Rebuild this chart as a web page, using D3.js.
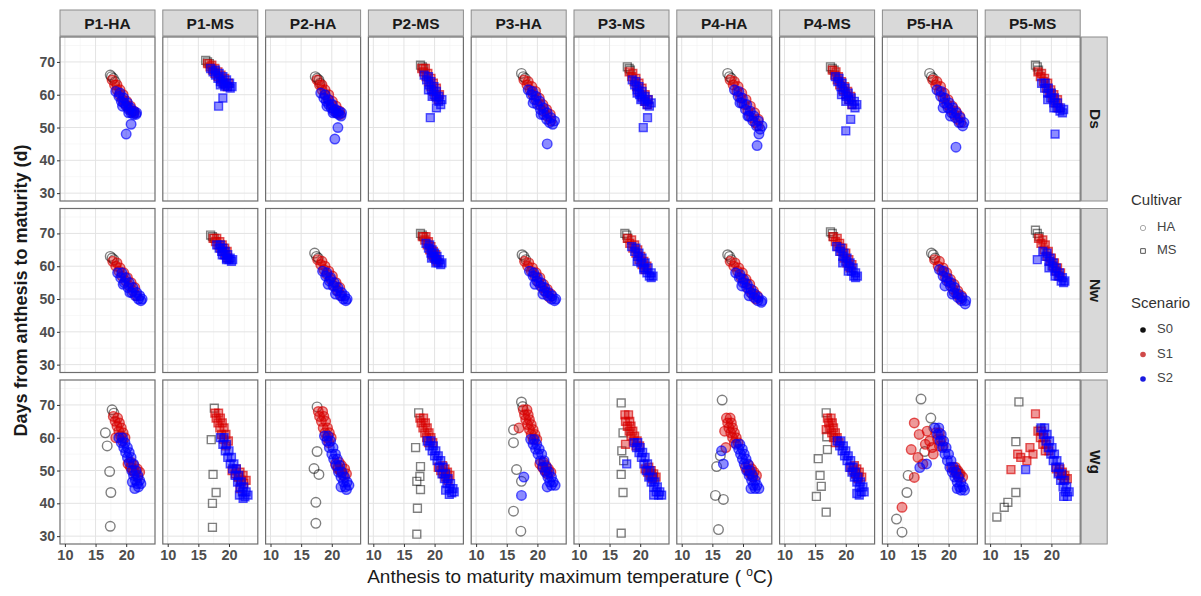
<!DOCTYPE html>
<html>
<head>
<meta charset="utf-8">
<script src="https://cdn.jsdelivr.net/npm/d3@7"></script>
<style>
  body { margin: 0; background: #fff; }
  svg { font-family: "Liberation Sans", Arial, sans-serif; }
</style>
</head>
<body>
<svg id="canvas"></svg>
<script>
// facet categories
const columns = ['P1-HA', 'P1-MS', 'P2-HA', 'P2-MS', 'P3-HA', 'P3-MS', 'P4-HA', 'P4-MS', 'P5-HA', 'P5-MS'];
const sites = ['Ds', 'Nw', 'Wg'];
const scenarios = ['S0', 'S1', 'S2'];
const cultivars = ['HA', 'MS'];

const xTicks = [10, 15, 20];
const xMinor = [12.5, 17.5, 22.5];
const yTicks = [30, 40, 50, 60, 70];
const yMinor = [35, 45, 55, 65, 75];

// points per panel, "temp,days" pairs, one string per column
const dsS0 = ['17.4,66 17.6,65.5 17.9,65 18.2,64', '16.2,70.5 16.5,70 16.8,69.5', '17.3,65.5 17.6,65 17.9,64.5 18.1,63.5', '17.7,69 18.0,68.5 18.2,68', '17.4,66.5 17.7,65.5 18.0,65', '17.9,68.5 18.2,68 18.4,67.5', '17.5,66.5 17.8,65.5 18.1,65', '17.5,68.5 17.8,68 18.1,67.5', '16.9,66.5 17.2,65.5 17.5,65', '17.4,69 17.7,68.5 17.9,67.5'];
const dsS1 = [
    '17.7,64.5 18.1,63 18.5,61.5 18.9,60 19.4,58.5 19.9,57 20.4,56 20.9,55 21.3,54.5 18.5,63 19.0,61.5 19.5,60 20.1,58 20.7,56.5 21.3,55',
    '16.5,69.5 16.9,68.5 17.3,67.5 17.7,66.5 18.2,65.5 18.7,64.5 19.2,63.5 19.7,62.5 17.2,69 17.7,68 18.2,67 18.7,66 19.3,65 19.9,63.5',
    '17.6,64.5 18.0,63 18.4,61.5 18.9,60 19.4,58.5 19.9,57 20.4,55.5 20.9,54.5 21.4,54 18.4,63 18.9,61.5 19.5,60 20.1,58 20.7,56.5 21.3,55',
    '17.9,68 18.2,67 18.6,65.5 19.0,64 19.4,62.5 19.8,61 20.2,59.5 20.6,58.5 18.5,68 18.9,66.5 19.4,65 19.8,63.5 20.3,62 20.8,60',
    '17.8,64.5 18.3,63 18.8,61.5 19.3,60 19.8,58.5 20.4,57 21.0,55 21.6,53.5 22.2,52 18.5,64 19.1,62.5 19.7,61 20.3,59 20.9,57 21.5,55.5 22.1,54',
    '18.2,67 18.6,65.5 19.0,64 19.4,62.5 19.8,61 20.3,59.5 20.8,58 21.2,57 18.8,66.5 19.3,65 19.8,63.5 20.3,62 20.8,60 21.3,58.5',
    '17.9,64.5 18.4,63 19.0,61 19.6,59 20.2,57 20.8,55 21.4,53 22.0,51.5 22.5,50.5 18.6,64 19.2,62.5 19.8,60.5 20.5,58.5 21.2,56.5 21.9,54.5 22.5,52.5',
    '17.8,67.5 18.2,66 18.6,64.5 19.0,63 19.5,61.5 20.0,60 20.5,58.5 21.0,57 18.4,67 18.8,65.5 19.3,64 19.8,62.5 20.3,61 20.8,59.5',
    '17.4,64.5 17.9,63 18.5,61 19.1,59 19.7,57 20.3,55.5 20.9,54 21.5,52.5 22.0,51.5 18.1,64 18.7,62.5 19.3,60.5 19.9,58.5 20.6,56.5 21.2,55 21.8,53.5',
    '17.8,67 18.2,65.5 18.7,64 19.2,62 19.7,60.5 20.2,59 20.7,57.5 21.2,56 18.4,66.5 18.9,65 19.4,63.5 19.9,61.5 20.4,60 21.0,58.5'
];
const dsS2 = [
    '18.3,61 18.8,59.5 19.2,58 19.6,57.5 20.0,56.5 20.4,55.5 20.8,54.5 21.2,54 21.6,54 20.8,51 20.0,48 19.0,60.5 19.6,59 20.2,57.5 20.7,56 21.2,55 21.7,54.5 19.4,56.5 20.4,54.5',
    '17.0,68 17.4,67 17.8,66 18.2,65 18.6,64 19.0,63.5 19.4,63 19.8,62.5 20.2,62 19.0,59 18.3,56.5 17.8,67.5 18.4,66.5 19.0,65.5 19.6,64.5 20.1,63.5 20.5,62.5 18.6,63 19.3,62.5',
    '18.2,60.5 18.7,59 19.1,58 19.5,57 19.9,56 20.3,55 20.7,54.5 21.1,54 21.5,53.5 21.0,50 20.5,46.5 18.9,60 19.5,58.5 20.1,57 20.6,55.5 21.1,55 21.6,54.5 19.2,56.5 20.2,54.5',
    '18.3,66 18.7,64.5 19.1,63 19.5,61.5 19.9,60 20.3,59 20.7,58 21.0,57 20.3,56 19.3,53 19.0,65.5 19.4,64 19.9,62.5 20.3,61 20.7,59.5 21.2,58.5 19.0,61.5 19.6,59.5',
    '18.5,61.5 19.0,60 19.5,58.5 20.0,57 20.5,55.5 21.0,54 21.5,52.5 22.0,51.5 22.5,51 21.6,45 19.2,61 19.8,59.5 20.4,58 21.0,56 21.6,54.5 22.2,53 22.8,52 19.3,57.5 20.6,54',
    '18.7,64.5 19.1,63 19.5,61.5 19.9,60 20.3,59 20.7,58 21.1,57 21.5,56.5 21.2,53 20.5,50 19.3,64 19.8,62.5 20.3,61 20.8,59.5 21.3,58.5 21.8,57.5 19.5,60.5 20.1,58.5',
    '18.6,61.5 19.2,59.5 19.8,57.5 20.4,55.5 21.0,53.5 21.6,52 22.2,50.5 22.8,49.5 22.6,48 22.3,44.5 19.3,61 19.9,59 20.6,57 21.2,55 21.8,53.5 22.5,52 23.1,50.5 19.5,57.5 20.8,53.5',
    '18.3,65.5 18.7,64 19.2,62.5 19.6,61 20.1,59.5 20.5,58.5 21.0,57 21.5,56 20.8,52.5 20.0,49 18.9,65 19.4,63.5 19.9,62 20.4,60.5 20.9,59 21.4,58 21.8,57 19.3,60 20.0,58',
    '18.1,61.5 18.7,59.5 19.3,57.5 19.9,56 20.5,54.5 21.1,53 21.7,51.5 22.3,50.5 21.2,44 18.8,61 19.4,59 20.1,57.5 20.7,56 21.3,54.5 21.9,53 22.5,51.5 19.1,56 20.3,53.5',
    '18.4,63.5 18.9,62 19.4,60.5 19.9,59 20.4,57.5 20.9,56 21.4,55 21.8,54.5 20.6,48 19.0,63.5 19.5,62 20.0,60.5 20.5,59 21.0,57.5 21.5,56 22.0,55.5 19.4,58.5 20.4,56'
];

const nwS0 = ['17.4,63 17.7,62.5 18.0,62', '17.0,69.5 17.3,69 17.6,68.5', '17.2,64 17.5,63 17.8,62.5', '17.7,70 18.0,69.5 18.2,69', '17.5,63.5 17.8,63 18.1,62', '17.5,70 17.8,69.5 18.0,68.5', '17.5,63.5 17.8,63 18.1,62', '17.5,70.5 17.8,70 18.0,69', '17.2,64 17.5,63.5 17.8,62.5', '17.4,71 17.7,70 18.0,69'];
const nwS1 = [
    '17.8,61.5 18.3,60 18.8,58.5 19.3,57 19.9,55.5 20.5,54 21.1,52.5 21.7,51 18.5,61 19.0,59.5 19.6,58 20.2,56.5 20.8,55 21.4,53.5',
    '17.4,68.5 17.8,67.5 18.2,66.5 18.6,65.5 19.0,64.5 19.4,63.5 19.8,62.5 18.0,68.5 18.5,67.5 18.9,66.5 19.3,65.5 19.7,64.5',
    '17.7,62 18.2,60.5 18.7,59 19.2,57.5 19.8,56 20.4,54 21.0,52.5 21.6,51 18.4,61.5 18.9,60 19.5,58.5 20.1,57 20.7,55 21.3,53.5',
    '18.0,69 18.4,68 18.8,66.5 19.2,65 19.6,63.5 20.0,62.5 20.4,61.5 18.6,69 19.0,67.5 19.4,66 19.8,64.5 20.2,63.5',
    '17.9,61.5 18.4,60 19.0,58.5 19.6,57 20.2,55 20.8,53.5 21.4,52 22.0,50.5 18.6,61 19.2,59.5 19.8,58 20.4,56.5 21.0,54.5 21.6,53 22.2,51.5',
    '17.9,68.5 18.3,67 18.8,65.5 19.3,64 19.8,62 20.3,60.5 20.8,59 18.6,68 19.1,66.5 19.6,65 20.1,63 20.6,61.5 21.1,60',
    '17.9,61.5 18.5,60 19.1,58.5 19.7,56.5 20.3,55 20.9,53 21.5,51.5 22.1,50 18.7,61 19.3,59.5 19.9,58 20.5,56 21.1,54.5 21.7,52.5 22.3,51',
    '17.9,69 18.3,67.5 18.7,66 19.2,64.5 19.7,62.5 20.2,61 20.7,59.5 18.6,68.5 19.0,67 19.5,65.5 20.0,64 20.5,62 21.0,60.5',
    '17.7,62 18.3,60 18.9,58.5 19.5,56.5 20.1,55 20.7,53 21.3,51.5 21.9,50 18.5,61.5 19.1,59.5 19.7,58 20.3,56 20.9,54.5 21.5,52.5 22.1,51',
    '17.9,68.5 18.3,67 18.8,65 19.3,63 19.8,61.5 20.3,60 20.8,58.5 21.3,57 18.6,68 19.0,66.5 19.5,64.5 20.0,62.5 20.5,61 21.0,59.5 21.5,58'
];
const nwS2 = [
    '18.6,58 19.1,56.5 19.7,55 20.3,53.5 20.9,52 21.5,51 22.0,50 22.4,49.5 19.3,58 19.9,56.5 20.5,55 21.1,53.5 21.7,52 22.2,51 22.6,50 19.5,54.5 20.6,52',
    '18.0,66.5 18.4,65.5 18.8,64.5 19.2,63.5 19.6,62.5 20.0,62 20.4,61.5 18.6,66.5 19.0,65.5 19.4,64.5 19.8,63.5 20.2,62.5 20.6,62 18.9,63.5 19.6,62',
    '18.5,58.5 19.0,57 19.6,55.5 20.2,54 20.8,52.5 21.4,51 21.9,50 22.3,49.5 19.2,58 19.8,56.5 20.4,55 21.0,53.5 21.6,52 22.1,51 22.5,50 19.4,54.5 20.6,51.5',
    '18.6,67 19.0,65.5 19.4,64 19.8,63 20.2,62 20.6,61 21.0,60.5 19.2,66.5 19.6,65 20.0,64 20.4,63 20.8,62 21.2,61 19.5,62.5 20.2,61',
    '18.7,58.5 19.3,57 19.9,55.5 20.5,54 21.1,52.5 21.7,51 22.3,50 22.8,49.5 19.4,58 20.0,56.5 20.6,55 21.2,53.5 21.8,52 22.4,51 23.0,50 19.6,54.5 20.9,51.5',
    '18.6,66 19.1,64.5 19.6,63 20.1,61 20.6,59.5 21.1,58 21.5,57 21.8,56.5 19.3,65.5 19.8,64 20.3,62.5 20.8,61 21.3,59.5 21.8,58 22.1,57 19.5,61.5 20.6,59',
    '18.8,58 19.4,56.5 20.0,55 20.6,53.5 21.2,52 21.8,50.5 22.4,49.5 23.0,49 19.5,57.5 20.1,56 20.7,54.5 21.3,53 21.9,51.5 22.5,50.5 23.1,49.5 19.8,54 21.0,51',
    '18.5,66 19.0,64.5 19.5,63 20.0,61.5 20.5,60 20.9,58.5 21.3,57 21.6,56.5 19.2,65.5 19.7,64 20.2,62.5 20.7,61 21.2,59.5 21.6,58 21.9,57 19.5,61 20.4,58.5',
    '18.5,59 19.1,57 19.7,55.5 20.3,54 20.9,52 21.5,50.5 22.1,49.5 22.7,48.5 19.2,58.5 19.8,56.5 20.4,55 21.0,53.5 21.6,51.5 22.2,50.5 22.8,49.5 19.4,54 20.6,51.5',
    '17.7,62 18.6,64.5 19.1,63 19.6,61.5 20.1,60 20.6,58.5 21.1,57 21.6,55.5 22.0,55 19.3,64 19.8,62.5 20.3,61 20.8,59.5 21.3,58 21.8,56.5 22.2,55.5 19.6,59.5 20.6,57'
];

const wgS0 = ['17.7,68.5 18.0,67.5 16.6,61.5 16.9,57.5 17.3,49.7 17.5,43.3 17.4,33 20.8,51 21.3,50', '17.6,69 17.1,59.4 17.4,48.8 17.9,43.3 17.3,40 17.3,32.7 21.6,48 21.9,47', '17.6,69.4 17.6,55.8 17.1,50.6 17.9,48.8 17.4,40.3 17.4,33.9 21.0,51 21.4,50', '17.4,67.6 16.9,57 17.7,51.2 17.6,48.2 17.1,46.7 17.7,44.2 17.2,38.5 17.1,30.6 21.8,49', '17.4,70.9 17.6,69.5 16.1,62.4 16.1,58.5 16.6,50.3 17.4,46.7 16.1,37.6 17.3,31.5 21.5,50', '16.9,70.6 17.2,61.5 17.0,56 17.3,53 16.9,48.8 17.2,43.3 16.9,30.9 21.8,49 22.2,48', '16.6,71.5 16.3,54.5 15.7,51.2 15.5,42.4 16.8,41.2 16.0,32 21.0,50 21.4,49', '16.8,67.6 16.9,60.3 17.0,56.4 15.5,53.6 15.8,48.5 16.0,45.2 15.2,42.1 16.8,37.3 21.6,49 22.0,48', '15.5,71.8 17.1,66 16.1,55.8 13.4,48.5 13.2,43.3 11.5,35.2 12.4,31.2 21.3,50 21.7,49 17.6,63', '14.7,70.9 14.2,58.8 14.2,43.3 12.9,40.3 12.3,38.8 11.1,35.8 21.8,48.5 22.2,47.5 18.2,62.4'];
const wgS1 = [
    '17.9,66.5 18.2,65 18.5,63.5 18.8,62 19.1,60.5 19.4,59 20.3,52 20.7,51 21.1,50 21.5,49 21.9,48 18.3,60 18.6,66 18.9,64.5 19.2,63 19.5,61.5 19.8,60 20.8,52.5 21.3,51.5 21.8,50.5 22.2,49.5',
    '17.7,67.5 17.9,66 18.2,64.5 18.5,63 18.8,61 19.1,59.5 19.5,57.5 20.5,50 21.0,49 21.5,48 22.0,47 22.4,46 21.8,44.5 18.3,67.5 18.6,66 18.9,64.5 19.2,63 19.5,61 19.9,59 21.2,50.5 21.8,49.5 22.3,48.5 22.8,47',
    '17.8,68 18.0,66.5 18.3,65 18.6,63 18.9,61.5 19.2,60 19.5,58.5 20.6,52 21.0,50.5 21.5,49.5 21.9,48.5 18.5,68 18.7,66.5 19.0,65 19.3,63 19.6,61.5 19.9,60 21.2,52.5 21.6,51.5 22.1,50.5 22.4,49',
    '17.6,66 17.8,64.5 18.1,63 18.4,61.5 18.7,60 19.0,58.5 20.6,51 21.0,50 21.4,49 21.8,48 22.2,47 18.2,66 18.5,64.5 18.8,63 19.1,61.5 19.4,60 19.7,58.5 21.3,51.5 21.7,50.5 22.1,49.5 22.5,48.5',
    '17.7,68.5 17.9,67 18.1,65.5 18.4,64 18.7,62.5 19.0,61 19.3,59.5 20.4,52 20.8,51 21.2,50 21.6,49 17.0,63 18.3,68.5 18.5,67 18.7,65.5 19.0,64 19.3,62.5 19.6,61 19.9,59.5 21.0,52.5 21.4,51.5 21.8,50.5 22.2,49.5',
    '17.5,67 17.6,65 17.9,63.5 18.2,62 18.5,60.5 18.9,59 19.3,57.5 20.8,50.5 21.2,49.5 21.6,48.5 22.0,47.5 17.6,58 18.1,67 18.3,65 18.5,63.5 18.8,62 19.1,60.5 19.5,59 19.9,57.5 21.4,51 21.8,50 22.2,49 22.6,48',
    '17.3,66 17.5,64.5 17.7,63 18.0,61.5 18.3,60 18.6,58.5 17.0,62 17.2,57 20.4,51 20.8,50 21.2,49 21.6,48 17.9,66 18.1,64.5 18.3,63 18.6,61.5 18.9,60 19.2,58.5 21.0,51.5 21.4,50.5 21.8,49.5 22.2,48.5',
    '17.0,66 17.2,64.5 17.4,63 17.7,61.5 18.0,60 18.3,58.5 16.8,62.5 20.8,51 21.2,50 21.6,49 22.0,47.5 17.6,66 17.8,64.5 18.0,63 18.3,61.5 18.6,60 18.9,58.5 21.4,51.5 21.8,50.5 22.2,49.5 22.6,48',
    '14.4,64.5 13.9,56.4 15.0,54 14.4,47.9 12.4,38.8 16.5,62 16.9,59 17.3,57 15.8,52 17.9,61.5 18.2,59.5 18.5,57.5 20.5,51 20.9,50 21.3,49 21.7,48 18.5,61.5 18.8,59.5 19.1,57.5 21.1,51 21.5,50 21.9,49 22.3,48 17.5,55 16.2,58 15.2,61',
    '17.4,67.3 15.0,54 13.4,50.3 16.5,57 17.0,55 17.8,62 18.2,60 18.6,58 19.0,56 20.8,50.5 21.2,49.5 21.6,48.5 22.0,47.5 18.4,62 18.8,60 19.2,58 19.6,56 21.4,50.5 21.8,49.5 22.2,48.5 22.6,47.5 16.0,53 14.5,55'
];
const wgS2 = [
    '18.8,60 19.2,58.5 19.6,57 19.9,55.5 20.2,54 20.5,52.5 20.9,50 21.2,48.5 21.5,47 21.8,46 22.0,45 21.4,44.5 19.4,60 19.8,58.5 20.2,57 20.5,55.5 20.8,54 21.2,52 21.6,50 21.9,48.5 22.2,47 22.4,46 21.0,46.5',
    '18.6,60 19.0,58 19.4,56 19.8,54 20.2,52 20.6,50.5 21.0,48.5 21.4,46.5 21.8,45 22.2,43.5 22.6,42 22.3,41.5 19.2,60 19.6,58 20.0,56 20.4,54 20.8,52 21.2,50.5 21.6,48.5 22.0,46.5 22.4,45 22.8,43.5 23.1,42.5 21.7,42.5',
    '18.8,60.5 19.2,59 19.6,57 20.0,55 20.3,53.5 20.7,51.5 21.1,49.5 21.5,48 21.9,46.5 22.2,45 22.4,44.2 19.4,60.5 19.8,59 20.2,57 20.6,55 20.9,53.5 21.3,51.5 21.7,49.5 22.1,48 22.5,46.5 22.8,45.5 21.5,45',
    '18.8,59 19.2,57.5 19.6,56 20.0,54.5 20.4,53 20.8,51 21.2,49 21.6,47.5 22.0,46 22.4,44.5 22.8,43.2 22.4,42.7 19.4,59 19.8,57.5 20.2,56 20.6,54.5 21.0,53 21.4,51 21.8,49 22.2,47.5 22.6,46 23.0,44.5 23.2,43.5 21.8,44',
    '18.9,59.5 19.3,58 19.7,56.5 20.1,55 20.5,53 20.9,51 21.3,49.5 21.7,48 22.0,46.5 22.3,45.5 17.4,42.4 17.8,48 19.5,59.5 19.9,58 20.3,56.5 20.7,55 21.1,53 21.5,51 21.9,49.5 22.3,48 22.6,46.5 22.9,45.5 21.6,45',
    '19.0,58.5 19.4,57 19.8,55.5 20.2,54 20.6,52 21.0,50 21.4,48 21.8,46.5 22.2,45 22.6,43.5 23.0,42.5 17.8,52 19.6,58.5 20.0,57 20.4,55.5 20.8,54 21.2,52 21.6,50 22.0,48 22.4,46.5 22.8,45 23.2,43.5 23.5,42.5 22.2,42.5',
    '18.9,58 19.3,56.5 19.6,55 19.9,53.5 20.2,52 20.6,50 21.0,48.5 21.4,47 21.7,45.5 22.0,44.5 16.5,56 16.8,52 19.5,58 19.9,56.5 20.2,55 20.5,53.5 20.8,52 21.2,50 21.6,48.5 22.0,47 22.3,45.5 22.6,44.5 21.3,44.5',
    '18.6,59 19.0,57.5 19.4,56 19.8,54.5 20.2,53 20.6,51 21.0,49.5 21.4,48 21.8,46.5 22.2,45 22.5,43.5 22.2,42.5 19.2,59 19.6,57.5 20.0,56 20.4,54.5 20.8,53 21.2,51 21.6,49.5 22.0,48 22.4,46.5 22.8,45 23.0,43.5 21.8,43',
    '15.3,50.9 16.4,52 17.8,63 18.2,61 18.6,59 19.0,57 19.4,55 19.8,53 20.2,51 20.6,49.5 21.0,48 21.4,46.5 21.8,45 22.0,44 18.4,63 18.8,61 19.2,59 19.6,57 20.0,55 20.4,53 20.8,51 21.2,49.5 21.6,48 22.0,46.5 22.4,45 22.6,44 21.4,44.5',
    '15.8,50.3 18.3,63 18.7,61 19.1,59 19.5,57 19.9,55 20.3,53 20.7,51 21.1,49 21.5,47 21.9,45 22.3,43.5 22.0,42.1 18.9,63 19.3,61 19.7,59 20.1,57 20.5,55 20.9,53 21.3,51 21.7,49 22.1,47 22.5,45 22.9,43.5 22.6,42.1'
];

const rowSeries = [[dsS0, dsS1, dsS2], [nwS0, nwS1, nwS2], [wgS0, wgS1, wgS2]];

const width = 1201;
const height = 596;
const plotLeft = 60;
const panelW = 95;
const stepX = 102.8;
const plotTop = 37;
const panelH = 164;
const stepY = 171.5;
const stripH = 27;

const scenarioStroke = ['rgba(0,0,0,0.5)', 'rgba(215,0,0,0.65)', 'rgba(0,0,255,0.65)'];
const scenarioFill = ['none', 'rgba(215,0,0,0.4)', 'rgba(0,0,255,0.45)'];

const svg = d3.select('#canvas')
    .attr('width', width)
    .attr('height', height);

const xScale = d3.scaleLinear().domain([9.2, 24.7]).range([0, panelW]);
const yScale = d3.scaleLinear().domain([27.6, 77.6]).range([panelH, 0]);

const parsePoints = (s) => s.split(' ').map(p => p.split(',').map(Number));

const circleSym = d3.symbol().type(d3.symbolCircle).size(72)();
const squareSym = d3.symbol().type(d3.symbolSquare).size(62)();

// top strips
columns.forEach((col, i) => {
    const x0 = plotLeft + i * stepX;
    svg.append('rect')
        .attr('x', x0).attr('y', plotTop - stripH)
        .attr('width', panelW).attr('height', stripH - 1)
        .attr('fill', '#d9d9d9').attr('stroke', '#8c8c8c').attr('stroke-width', 1);
    svg.append('text')
        .attr('x', x0 + panelW / 2).attr('y', plotTop - stripH / 2 + 1)
        .attr('text-anchor', 'middle').attr('dominant-baseline', 'middle')
        .attr('font-size', 15.5).attr('font-weight', 'bold').attr('fill', '#1a1a1a')
        .text(col);
});

// right strips
sites.forEach((site, r) => {
    const y0 = plotTop + r * stepY;
    const x0 = plotLeft + 9 * stepX + panelW + 1;
    svg.append('rect')
        .attr('x', x0).attr('y', y0)
        .attr('width', 26).attr('height', panelH)
        .attr('fill', '#d9d9d9').attr('stroke', '#8c8c8c').attr('stroke-width', 1);
    svg.append('text')
        .attr('transform', 'translate(' + (x0 + 13) + ',' + (y0 + panelH / 2) + ') rotate(90)')
        .attr('text-anchor', 'middle').attr('dominant-baseline', 'middle')
        .attr('font-size', 15.5).attr('font-weight', 'bold').attr('fill', '#1a1a1a')
        .text(site);
});

// panels
sites.forEach((site, r) => {
    columns.forEach((col, i) => {
        const g = svg.append('g')
            .attr('transform', 'translate(' + (plotLeft + i * stepX) + ',' + (plotTop + r * stepY) + ')');

        g.append('rect')
            .attr('width', panelW).attr('height', panelH)
            .attr('fill', '#fff');

        g.selectAll('.minor-x').data(xMinor).enter().append('line')
            .attr('x1', d => xScale(d)).attr('x2', d => xScale(d))
            .attr('y1', 0).attr('y2', panelH)
            .attr('stroke', '#f2f2f2').attr('stroke-width', 0.6);
        g.selectAll('.minor-y').data(yMinor).enter().append('line')
            .attr('y1', d => yScale(d)).attr('y2', d => yScale(d))
            .attr('x1', 0).attr('x2', panelW)
            .attr('stroke', '#f2f2f2').attr('stroke-width', 0.6);
        g.selectAll('.major-x').data(xTicks).enter().append('line')
            .attr('x1', d => xScale(d)).attr('x2', d => xScale(d))
            .attr('y1', 0).attr('y2', panelH)
            .attr('stroke', '#e3e3e3').attr('stroke-width', 1);
        g.selectAll('.major-y').data(yTicks).enter().append('line')
            .attr('y1', d => yScale(d)).attr('y2', d => yScale(d))
            .attr('x1', 0).attr('x2', panelW)
            .attr('stroke', '#e3e3e3').attr('stroke-width', 1);

        const shape = col.endsWith('HA') ? circleSym : squareSym;
        rowSeries[r].forEach((series, s) => {
            g.append('g').selectAll('path')
                .data(parsePoints(series[i]))
                .enter()
                .append('path')
                .attr('d', shape)
                .attr('transform', d => 'translate(' + xScale(d[0]) + ',' + yScale(d[1]) + ')')
                .attr('fill', scenarioFill[s])
                .attr('stroke', scenarioStroke[s])
                .attr('stroke-width', 1.4);
        });

        g.append('rect')
            .attr('width', panelW).attr('height', panelH)
            .attr('fill', 'none').attr('stroke', '#6e6e6e').attr('stroke-width', 1.2);

        if (i === 0) {
            const yAxis = d3.axisLeft(yScale).tickValues(yTicks).tickSize(3).tickPadding(2);
            const ya = g.append('g').call(yAxis);
            ya.select('.domain').remove();
            ya.selectAll('line').attr('stroke', '#333');
            ya.selectAll('text').attr('font-size', 14).attr('font-weight', 'bold')
                .attr('fill', '#4d4d4d').attr('font-family', '"Liberation Sans", Arial, sans-serif');
        }
        if (r === 2) {
            const xAxis = d3.axisBottom(xScale).tickValues(xTicks).tickSize(3).tickPadding(3);
            const xa = g.append('g').attr('transform', 'translate(0,' + panelH + ')').call(xAxis);
            xa.select('.domain').remove();
            xa.selectAll('line').attr('stroke', '#333');
            xa.selectAll('text').attr('font-size', 14.5).attr('font-weight', 'bold')
                .attr('fill', '#4d4d4d').attr('font-family', '"Liberation Sans", Arial, sans-serif');
        }
    });
});

// axis titles
const xTitle = svg.append('text')
    .attr('x', plotLeft + (9 * stepX + panelW) / 2).attr('y', 583)
    .attr('text-anchor', 'middle').attr('font-size', 19).attr('fill', '#1a1a1a');
xTitle.append('tspan').text('Anthesis to maturity maximum temperature ( ');
xTitle.append('tspan').attr('font-size', 12).attr('dy', -7).text('o');
xTitle.append('tspan').attr('dy', 7).text('C)');

svg.append('text')
    .attr('transform', 'translate(22,' + (plotTop + (2 * stepY + panelH) / 2) + ') rotate(-90)')
    .attr('text-anchor', 'middle').attr('dominant-baseline', 'middle')
    .attr('font-size', 18).attr('font-weight', 'bold').attr('fill', '#1a1a1a')
    .text('Days from anthesis to maturity (d)');

// legends
const legend = svg.append('g');
legend.append('text').attr('x', 1131).attr('y', 205)
    .attr('font-size', 15).attr('fill', '#333').text('Cultivar');
cultivars.forEach((c, k) => {
    const cy = 228 + k * 23;
    legend.append('path')
        .attr('d', k === 0 ? d3.symbol().type(d3.symbolCircle).size(22)() : d3.symbol().type(d3.symbolSquare).size(22)())
        .attr('transform', 'translate(1143,' + cy + ')')
        .attr('fill', 'none').attr('stroke', k === 0 ? '#aaa' : '#555').attr('stroke-width', 1);
    legend.append('text').attr('x', 1157).attr('y', cy)
        .attr('dominant-baseline', 'middle').attr('font-size', 13).attr('fill', '#444').text(c);
});

legend.append('text').attr('x', 1131).attr('y', 308)
    .attr('font-size', 15).attr('fill', '#333').text('Scenario');
const legendDot = ['#111', '#d04a4a', '#1a1ae0'];
scenarios.forEach((s, k) => {
    const cy = 330 + k * 24.5;
    legend.append('circle').attr('cx', 1143).attr('cy', cy).attr('r', 2.8)
        .attr('fill', legendDot[k]);
    legend.append('text').attr('x', 1157).attr('y', cy)
        .attr('dominant-baseline', 'middle').attr('font-size', 13).attr('fill', '#444').text(s);
});
</script>
</body>
</html>
